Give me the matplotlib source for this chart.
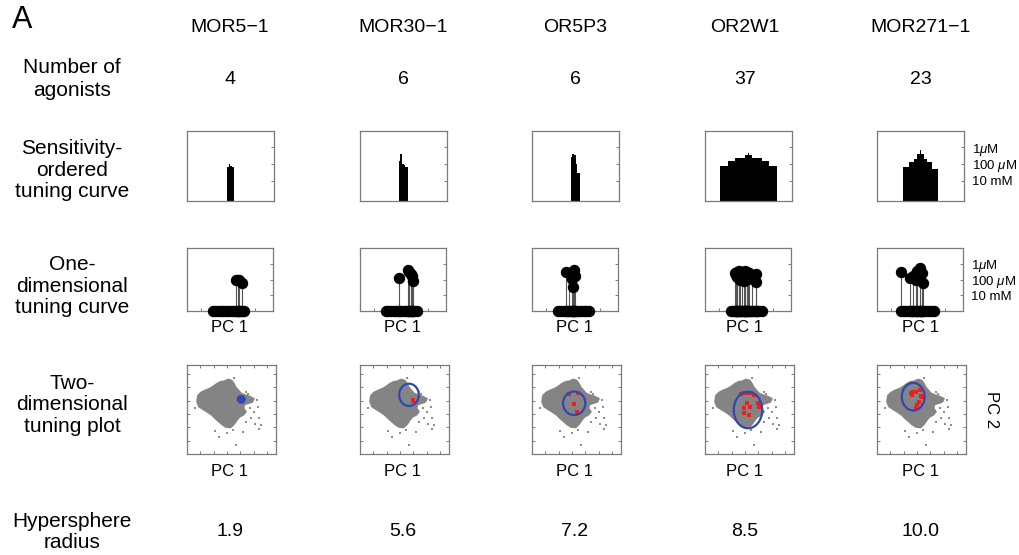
import numpy as np
import matplotlib
matplotlib.use("Agg")
import matplotlib.pyplot as plt
from matplotlib.patches import Ellipse, Polygon

plt.rcParams['font.family'] = ['Liberation Sans', 'DejaVu Sans']
plt.rcParams['mathtext.fontset'] = 'custom'
plt.rcParams['mathtext.it'] = 'Liberation Sans:italic'
plt.rcParams['mathtext.rm'] = 'Liberation Sans'

# ---------------- data ----------------
receptors = ["MOR5\u22121", "MOR30\u22121", "OR5P3", "OR2W1", "MOR271\u22121"]
n_agonists = [4, 6, 6, 37, 23]
hypersphere_radius = [1.9, 5.6, 7.2, 8.5, 10.0]

conc_ticks = [2, 4, 6]                     # -log10(M)
conc_labels = ["10 mM", "100 $\\mu$M", "1$\\mu$M"]

# sensitivity-ordered tuning curves (-log10 EC50)
sens_MOR5_1 = [3.6, 4.0, 3.7, 3.6]
sens_MOR30_1 = [4.4, 5.2, 4.0, 3.9, 3.6, 3.6]
sens_OR5P3 = [4.8, 5.2, 5.0, 4.0, 2.9, 2.9]
sens_OR2W1 = [3.8, 3.8, 3.8, 3.8, 3.8, 4.3, 4.3, 4.3, 4.3, 4.3,
              4.7, 4.7, 4.7, 4.7, 4.7, 4.7, 5.1, 5.1, 5.3, 5.1, 5.1,
              4.7, 4.7, 4.7, 4.7, 4.7, 4.7, 4.3, 4.3, 4.3, 4.3, 4.3,
              3.8, 3.8, 3.8, 3.8, 3.8]
sens_MOR271_1 = [3.6, 3.6, 3.6, 3.6, 4.2, 4.2, 4.2, 4.6, 4.6, 5.2, 5.2, 5.6,
                 5.2, 5.2, 4.6, 4.6, 4.2, 4.2, 4.2, 3.4, 3.4, 3.4, 3.4]
n_odorants = 56

# one-dimensional tuning curves: PC1 position and -log10 EC50
pc1_nonagonists = [3.0, 3.3, 3.6, 3.9, 4.2, 4.5, 4.8, 5.1, 5.4, 5.7, 6.0, 6.3, 6.6]
pc1_MOR5_1 = [5.75, 5.95, 6.1, 6.35]
resp_MOR5_1 = [3.9, 4.0, 3.95, 3.55]
pc1_MOR30_1 = [4.53, 5.62, 5.75, 5.9, 6.0, 6.15]
resp_MOR30_1 = [4.15, 5.15, 5.0, 4.7, 4.4, 3.85]
pc1_OR5P3 = [3.9, 4.3, 4.6, 4.75, 4.85, 4.95]
resp_OR5P3 = [5.0, 4.8, 4.1, 3.0, 5.2, 4.4]
pc1_OR2W1 = [3.48, 3.75, 4.0, 4.31, 4.6, 4.87, 5.13, 3.75, 4.12, 4.68,
             4.49, 5.88, 5.88, 5.5, 3.56, 4.98]
resp_OR2W1 = [4.82, 4.94, 5.07, 4.94, 5.07, 4.94, 4.82, 4.31, 3.98, 4.31,
              3.81, 4.73, 3.73, 4.31, 4.52, 4.1]
pc1_MOR271_1 = [2.82, 3.83, 4.23, 4.56, 4.96, 4.64, 5.24, 5.36, 5.04]
resp_MOR271_1 = [4.97, 4.19, 4.5, 3.98, 5.49, 5.06, 4.84, 3.55, 4.41]

# two-dimensional odor space (PC1, PC2): dense cloud outline + sparse odorants
cloud_pc1 = [1.25, 1.6, 2.1, 2.6, 3.0, 3.4, 3.8, 4.2, 4.6, 5.0, 5.25, 5.45,
             5.75, 6.05, 6.5, 7.0, 7.5, 7.3, 6.8, 6.4, 6.35, 6.6, 6.3, 5.9,
             5.6, 5.3, 4.9, 4.4, 4.0, 3.6, 3.2, 2.8, 2.3, 1.8, 1.35, 1.15]
cloud_pc2 = [6.55, 6.9, 7.15, 7.35, 7.6, 7.9, 8.1, 8.15, 8.35, 8.25, 7.9, 7.5,
             7.15, 6.8, 6.6, 6.45, 6.2, 5.85, 5.7, 5.55, 5.1, 4.75, 4.4, 4.2,
             3.85, 3.4, 3.0, 3.05, 3.3, 3.65, 4.0, 4.4, 4.75, 5.05, 5.35, 5.9]
sparse_pc1 = [5.26, 6.85, 7.85, 7.11, 7.48, 8.07, 8.37, 8.07, 7.59, 6.67,
              6.3, 5.19, 3.63, 5.56, 0.93, 3.15, 7.22, 4.44, 6.67, 7.96]
sparse_pc2 = [8.51, 6.79, 6.04, 5.22, 4.74, 4.1, 3.28, 2.8, 3.36, 3.54,
              2.43, 2.69, 1.87, 1.04, 5.22, 2.54, 4.03, 2.31, 7.01, 5.3]

ag2d_pc1_MOR5_1 = [5.85, 5.95]
ag2d_pc2_MOR5_1 = [6.25, 6.15]
ag2d_pc1_MOR30_1 = [6.0, 5.9]
ag2d_pc2_MOR30_1 = [6.0, 6.1]
ag2d_pc1_OR5P3 = [4.74, 4.17, 5.15, 5.03]
ag2d_pc2_OR5P3 = [5.65, 6.78, 6.85, 4.7]
ag2d_pc1_OR2W1 = [4.01, 4.38, 4.75, 5.13, 5.51, 5.99, 6.07, 4.68, 4.38, 5.01, 4.38, 4.94]
ag2d_pc2_OR2W1 = [6.71, 6.89, 6.82, 6.82, 6.63, 5.76, 5.32, 5.69, 5.13, 5.24, 4.64, 4.38]
ag2d_pc1_MOR271_1 = [3.78, 4.07, 4.34, 4.8, 3.89, 4.9, 5.09, 4.72, 4.52, 4.34]
ag2d_pc2_MOR271_1 = [6.82, 6.93, 7.0, 7.19, 6.67, 6.52, 6.37, 5.88, 5.5, 5.13]

# hypersphere projection (center PC1, center PC2, width, height)
sphere_center_pc1 = [6.1, 5.5, 4.74, 4.83, 4.07]
sphere_center_pc2 = [6.14, 6.65, 5.7, 4.94, 6.44]
sphere_width = [0.75, 2.2, 2.5, 3.2, 2.56]
sphere_height = [0.75, 2.5, 2.65, 4.1, 3.1]

sens_all = [sens_MOR5_1, sens_MOR30_1, sens_OR5P3, sens_OR2W1, sens_MOR271_1]
pc1_all = [pc1_MOR5_1, pc1_MOR30_1, pc1_OR5P3, pc1_OR2W1, pc1_MOR271_1]
resp_all = [resp_MOR5_1, resp_MOR30_1, resp_OR5P3, resp_OR2W1, resp_MOR271_1]
ag_x_all = [ag2d_pc1_MOR5_1, ag2d_pc1_MOR30_1, ag2d_pc1_OR5P3, ag2d_pc1_OR2W1, ag2d_pc1_MOR271_1]
ag_y_all = [ag2d_pc2_MOR5_1, ag2d_pc2_MOR30_1, ag2d_pc2_OR5P3, ag2d_pc2_OR2W1, ag2d_pc2_MOR271_1]

# ---------------- layout ----------------
W, H = 1020, 555
fig = plt.figure(figsize=(W / 100, H / 100), dpi=100)


def px_axes(left, top, w, h):
    return fig.add_axes([left / W, 1 - (top + h) / H, w / W, h / H])


def ftext(x, y, s, **kw):
    fig.text(x / W, 1 - y / H, s, **kw)


SPINE = '#7a7a7a'
FS_ROW = 15
FS_COL = 14
col_left = [187, 360, 532, 705, 877]
col_center = [230, 403, 575, 745, 921]
label_x = 72

ftext(12, 20, "A", fontsize=22, ha='left', va='center')
ftext(label_x, 79, "Number of\nagonists", fontsize=FS_ROW, ha='center', va='center', linespacing=1.25)
ftext(label_x, 170, "Sensitivity-\nordered\ntuning curve", fontsize=FS_ROW, ha='center', va='center', linespacing=1.15)
ftext(label_x, 286, "One-\ndimensional\ntuning curve", fontsize=FS_ROW, ha='center', va='center', linespacing=1.15)
ftext(label_x, 405, "Two-\ndimensional\ntuning plot", fontsize=FS_ROW, ha='center', va='center', linespacing=1.15)
ftext(label_x, 532, "Hypersphere\nradius", fontsize=FS_ROW, ha='center', va='center', linespacing=1.15)


def style_box(ax):
    for s in ax.spines.values():
        s.set_color(SPINE)
        s.set_linewidth(0.9)
    ax.tick_params(colors=SPINE, direction='in', length=2.5, width=0.7,
                   labelcolor='black', labelsize=9.5)


for i, name in enumerate(receptors):
    cx = col_center[i]
    ftext(cx, 28, name, fontsize=FS_COL, ha='center', va='center')
    ftext(cx, 79, str(n_agonists[i]), fontsize=FS_COL, ha='center', va='center')
    ftext(cx, 531, f"{hypersphere_radius[i]:.1f}", fontsize=FS_COL, ha='center', va='center')

    # sensitivity-ordered tuning curve
    ax = px_axes(col_left[i], 131, 87, 70)
    vals = np.array(sens_all[i])
    n = len(vals)
    xpos = n_odorants / 2 - n / 2 + np.arange(n) + 0.5
    ymin = -0.4
    ax.bar(xpos, vals - ymin, bottom=ymin, width=1.0, color='black', linewidth=0)
    ax.set_xlim(0, n_odorants)
    ax.set_ylim(ymin, 7.9)
    style_box(ax)
    ax.set_xticks([])
    ax.yaxis.tick_right()
    ax.set_yticks(conc_ticks)
    if i == len(receptors) - 1:
        ax.set_yticklabels(conc_labels)
        ax.tick_params(axis='y', pad=6)
    else:
        ax.set_yticklabels([])

    # one-dimensional tuning curve
    ax = px_axes(col_left[i], 248, 86, 63)
    ax.vlines(pc1_all[i], 0, resp_all[i], color='#555555', linewidth=0.8, zorder=2)
    ax.plot(pc1_all[i], resp_all[i], 'o', color='black', markersize=7.2, zorder=3)
    ax.plot(pc1_nonagonists, np.zeros(len(pc1_nonagonists)), 'o', color='black',
            markersize=7.2, clip_on=False, zorder=4)
    ax.plot(pc1_all[i], np.zeros(len(pc1_all[i])), 'o', color='black',
            markersize=7.2, clip_on=False, zorder=4)
    ax.set_xlim(0, 10)
    ax.set_ylim(0, 8)
    style_box(ax)
    ax.set_xticks([1.6, 7.9])
    ax.set_xticklabels([])
    ax.yaxis.tick_right()
    ax.set_yticks(conc_ticks)
    if i == len(receptors) - 1:
        ax.set_yticklabels(conc_labels)
        ax.tick_params(axis='y', pad=6)
    else:
        ax.set_yticklabels([])
    ftext(cx, 327, "PC 1", fontsize=12, ha='center', va='center')

    # two-dimensional tuning plot
    ax = px_axes(col_left[i], 365, 89, 89)
    ax.add_patch(Polygon(np.column_stack([cloud_pc1, cloud_pc2]), closed=True,
                         facecolor='#848484', edgecolor='#848484', linewidth=1.5,
                         joinstyle='round', zorder=1))
    ax.plot(sparse_pc1, sparse_pc2, 's', color='#8c8c8c', markersize=1.9,
            markeredgewidth=0, zorder=1)
    ax.plot(ag_x_all[i], ag_y_all[i], 's', color='#f01e1e', markersize=3,
            markeredgewidth=0, zorder=3)
    small = sphere_width[i] < 1
    ax.add_patch(Ellipse((sphere_center_pc1[i], sphere_center_pc2[i]),
                         sphere_width[i], sphere_height[i],
                         facecolor='#3048b0' if small else 'none',
                         edgecolor='#3048b0', linewidth=1.6, zorder=4))
    ax.set_xlim(0, 10)
    ax.set_ylim(0, 10)
    style_box(ax)
    ax.set_xticks([1.5, 3, 4.5, 6, 7.5, 9])
    ax.set_yticks([1.5, 3, 4.5, 6, 7.5, 9])
    ax.tick_params(top=True, right=True, length=2, labelbottom=False, labelleft=False)
    ftext(cx, 471, "PC 1", fontsize=12, ha='center', va='center')

ftext(992, 410, "PC 2", fontsize=12, ha='center', va='center', rotation=270)

fig.savefig("out.png", dpi=100)
